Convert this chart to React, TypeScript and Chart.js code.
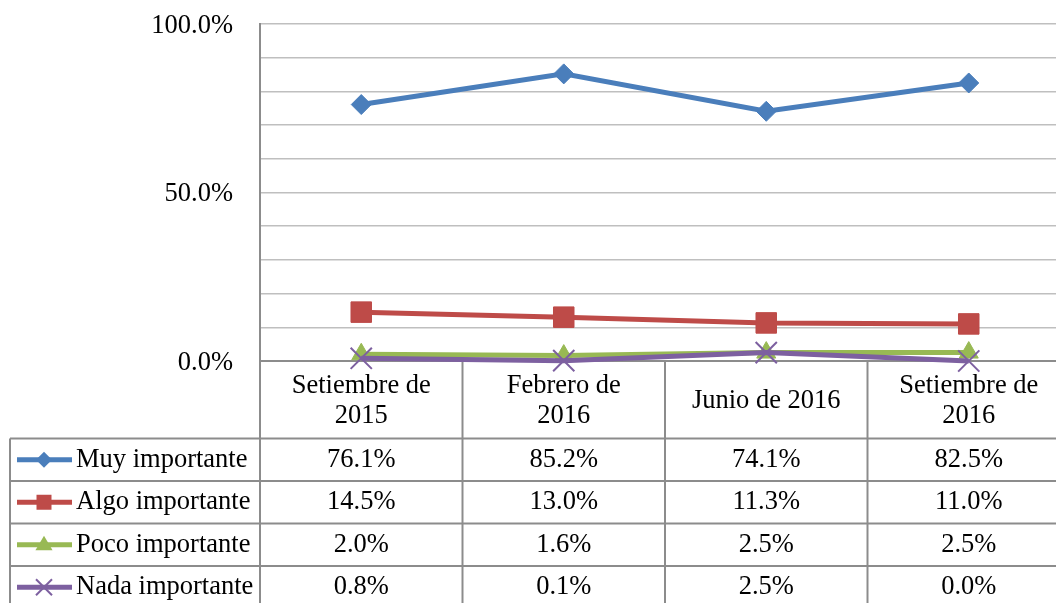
import React, { useEffect, useRef } from "react";
import { Chart, registerables } from "chart.js";

Chart.register(...registerables);

const categories = ["Setiembre de 2015", "Febrero de 2016", "Junio de 2016", "Setiembre de 2016"];
const categoryLines = [["Setiembre de", "2015"], ["Febrero de", "2016"], ["Junio de 2016"], ["Setiembre de", "2016"]];
const seriesNames = ["Muy importante", "Algo importante", "Poco importante", "Nada importante"];
const muyImportante = [76.1, 85.2, 74.1, 82.5];
const algoImportante = [14.5, 13.0, 11.3, 11.0];
const pocoImportante = [2.0, 1.6, 2.5, 2.5];
const nadaImportante = [0.8, 0.1, 2.5, 0.0];
const yTickLabels = [0, 50, 100];

const seriesValues = [muyImportante, algoImportante, pocoImportante, nadaImportante];
const seriesColors = ["#4A7EBB", "#BE4B48", "#98B954", "#7D60A0"];
const seriesPoints = ["rectRot", "rect", "triangle", "crossRot"];
const pointRadii = [10, 14.5, 11, 15];
const pointBorders = [1, 1, 1, 2];

const FONT_SIZE = 26.5;
const FONT_FAMILY = '"Liberation Serif", "Times New Roman", serif';
const FONT = `${FONT_SIZE}px ${FONT_FAMILY}`;
const TABLE_COLOR = "#8C8C8C";

function drawLegendMarker(ctx: CanvasRenderingContext2D, kind: string, x: number, y: number, color: string) {
  ctx.save();
  ctx.fillStyle = color;
  ctx.strokeStyle = color;
  ctx.beginPath();
  if (kind === "rectRot") {
    const r = 8;
    ctx.moveTo(x - r, y);
    ctx.lineTo(x, y - r);
    ctx.lineTo(x + r, y);
    ctx.lineTo(x, y + r);
    ctx.closePath();
    ctx.fill();
  } else if (kind === "rect") {
    const s = 7.5;
    ctx.rect(x - s, y - s, 2 * s, 2 * s);
    ctx.fill();
  } else if (kind === "triangle") {
    const r = 9;
    ctx.moveTo(x, y - r);
    ctx.lineTo(x + r * 0.95, y + r * 0.6);
    ctx.lineTo(x - r * 0.95, y + r * 0.6);
    ctx.closePath();
    ctx.fill();
  } else {
    const r = 8;
    ctx.lineWidth = 2;
    ctx.moveTo(x - r, y - r);
    ctx.lineTo(x + r, y + r);
    ctx.moveTo(x + r, y - r);
    ctx.lineTo(x - r, y + r);
    ctx.stroke();
  }
  ctx.restore();
}

function drawTable(chart: any) {
  const ctx: CanvasRenderingContext2D = chart.ctx;
  const { left, right, top, bottom } = chart.chartArea;
  const H = chart.height;
  const xs = chart.scales.x;
  const n = categories.length;
  const colW = (right - left) / n;
  const headerBottom = 438.5;
  const rowH = 42.5;
  const tableLeft = 10;

  ctx.save();
  ctx.strokeStyle = TABLE_COLOR;
  ctx.lineWidth = 2;
  const line = (x1: number, y1: number, x2: number, y2: number) => {
    ctx.beginPath();
    ctx.moveTo(x1, y1);
    ctx.lineTo(x2, y2);
    ctx.stroke();
  };
  line(left, bottom, right, bottom);
  for (let k = 0; k <= seriesNames.length; k++) {
    const y = headerBottom + k * rowH;
    line(tableLeft, y, right, y);
  }
  line(tableLeft, headerBottom, tableLeft, H);
  line(left, top, left, H);
  for (let k = 1; k < n; k++) {
    const x = left + k * colW;
    line(x, bottom, x, H);
  }

  ctx.fillStyle = "#000";
  ctx.font = FONT;
  ctx.textAlign = "center";
  ctx.textBaseline = "middle";
  const headerMid = (bottom + headerBottom) / 2 + 1;
  categoryLines.forEach((lines, i) => {
    const cx = xs.getPixelForValue(i);
    const lh = 30;
    lines.forEach((t, j) => {
      const y = headerMid + (j - (lines.length - 1) / 2) * lh;
      ctx.fillText(t, cx, y);
    });
  });

  seriesNames.forEach((name, r) => {
    const mid = headerBottom + r * rowH + rowH / 2;
    ctx.strokeStyle = seriesColors[r];
    ctx.lineWidth = 5;
    line(17, mid, 72, mid);
    drawLegendMarker(ctx, seriesPoints[r], 44, mid, seriesColors[r]);
    ctx.fillStyle = "#000";
    ctx.textAlign = "left";
    ctx.fillText(name, 76, mid);
    ctx.textAlign = "center";
    seriesValues[r].forEach((v, i) => {
      ctx.fillText(v.toFixed(1) + "%", xs.getPixelForValue(i), mid);
    });
  });
  ctx.restore();
}

export default function App() {
  const ref = useRef<HTMLCanvasElement>(null);
  useEffect(() => {
    const canvas = ref.current!;
    const tablePlugin = {
      id: "dataTable",
      beforeDatasetsDraw(chart: any) {
        drawTable(chart);
      },
    };
    const chart = new Chart(canvas, {
      type: "line",
      data: {
        labels: categories,
        datasets: seriesNames.map((name, i) => ({
          label: name,
          data: seriesValues[i],
          borderColor: seriesColors[i],
          backgroundColor: seriesColors[i],
          borderWidth: 5,
          pointStyle: seriesPoints[i] as any,
          pointRadius: pointRadii[i],
          pointBorderWidth: pointBorders[i],
          pointBorderColor: seriesColors[i],
          pointBackgroundColor: seriesColors[i],
          tension: 0,
          clip: false as any,
          order: seriesNames.length - i,
        })),
      },
      options: {
        animation: false,
        responsive: false,
        devicePixelRatio: 1,
        layout: { autoPadding: false, padding: { top: 24, bottom: 603 - 361, left: 0, right: 0 } },
        plugins: { legend: { display: false }, tooltip: { enabled: false } },
        scales: {
          x: {
            type: "category",
            offset: true,
            display: false,
          },
          y: {
            min: 0,
            max: 100,
            afterFit(scale: any) {
              scale.width = 260;
            },
            grid: { color: "#BFBFBF", lineWidth: 1.5, drawTicks: true, tickLength: 27, tickColor: "rgba(0,0,0,0)" },
            border: { display: true, color: TABLE_COLOR, width: 2 },
            ticks: {
              stepSize: 10,
              autoSkip: false,
              padding: 0,
              labelOffset: 2,
              color: "#000",
              font: { family: FONT_FAMILY, size: FONT_SIZE },
              callback: (v: any) => (yTickLabels.includes(Number(v)) ? Number(v).toFixed(1) + "%" : ""),
            },
          },
        },
      },
      plugins: [tablePlugin],
    });
    return () => chart.destroy();
  }, []);
  return (
    <div style={{ position: "fixed", left: 0, top: 0, width: 1056, height: 603, overflow: "hidden", background: "#fff" }}>
      <canvas ref={ref} width={1070} height={603} style={{ display: "block", width: 1070, height: 603 }} />
    </div>
  );
}
